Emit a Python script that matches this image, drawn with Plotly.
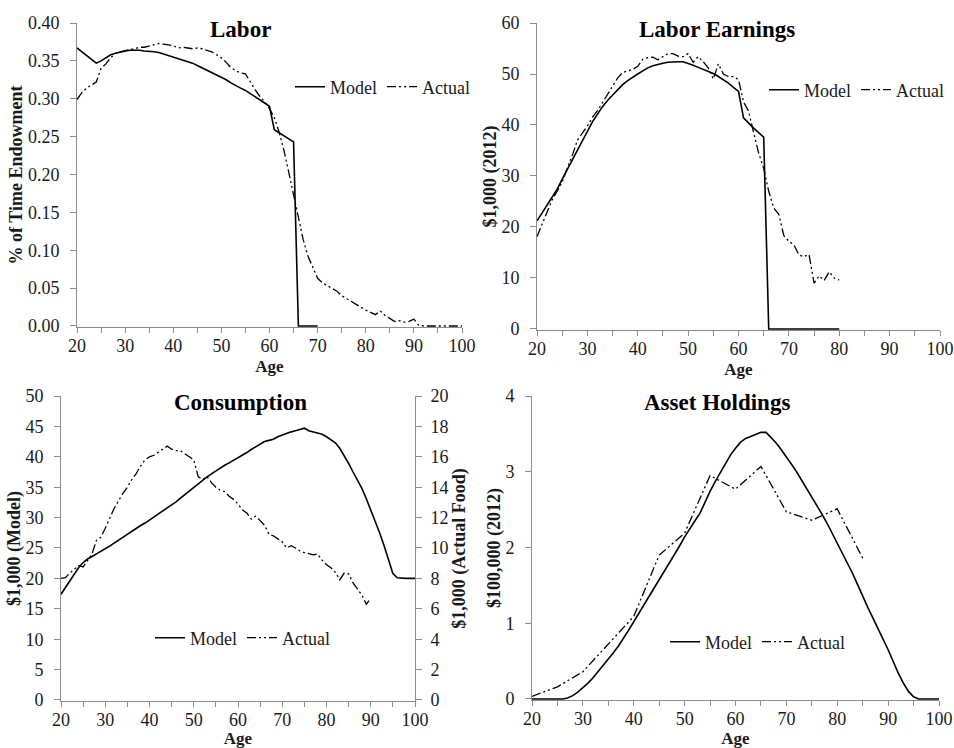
import plotly.graph_objects as go

# ---- Labor (share of time endowment) ----
labor_model_age = list(range(20, 71))
labor_model = [
    0.367, 0.362, 0.357, 0.352, 0.347, 0.350, 0.354, 0.358, 0.360, 0.362,
    0.363, 0.364, 0.364, 0.364, 0.363, 0.363, 0.362, 0.361, 0.359, 0.358,
    0.356, 0.354, 0.352, 0.350, 0.347, 0.344, 0.341, 0.338, 0.335, 0.332,
    0.329, 0.325, 0.321, 0.317, 0.314, 0.311, 0.307, 0.303, 0.299, 0.295,
    0.290, 0.259, 0.255, 0.251, 0.247, 0.243, 0.0, 0.0, 0.0, 0.0, 0.0,
]
labor_actual_age = list(range(20, 101))
labor_actual = [
    0.299, 0.308, 0.314, 0.318, 0.322, 0.340, 0.346, 0.354, 0.360, 0.362,
    0.364, 0.365, 0.366, 0.368, 0.368, 0.370, 0.371, 0.373, 0.372, 0.371,
    0.370, 0.367, 0.368, 0.367, 0.366, 0.367, 0.366, 0.364, 0.362, 0.358,
    0.354, 0.348, 0.341, 0.337, 0.334, 0.333, 0.322, 0.312, 0.303, 0.296,
    0.287, 0.275, 0.256, 0.232, 0.203, 0.172, 0.143, 0.114, 0.092, 0.078,
    0.063, 0.057, 0.053, 0.050, 0.046, 0.040, 0.036, 0.032, 0.028, 0.025,
    0.021, 0.018, 0.015, 0.020, 0.014, 0.010, 0.006, 0.007, 0.005, 0.006,
    0.009, 0.001, 0.0, 0.0, 0.0, 0.0, 0.0, 0.0, 0.0, 0.0, 0.0,
]

# ---- Labor earnings ($1,000, 2012) ----
earn_model_age = list(range(20, 81))
earn_model = [
    21.2, 22.8, 24.4, 25.9, 27.4, 29.4, 31.3, 33.1, 35.1, 37.1,
    39.0, 40.6, 42.1, 43.6, 44.8, 45.9, 46.9, 47.9, 48.7, 49.4,
    50.0, 50.6, 51.2, 51.6, 51.9, 52.1, 52.3, 52.4, 52.4, 52.4,
    52.1, 51.7, 51.3, 50.9, 50.5, 50.1, 49.5, 48.9, 48.2, 47.4,
    46.6, 41.4, 40.3, 39.4, 38.5, 37.6, 0.0, 0.0, 0.0, 0.0,
    0.0, 0.0, 0.0, 0.0, 0.0, 0.0, 0.0, 0.0, 0.0, 0.0, 0.0,
]
earn_actual_age = list(range(20, 81))
earn_actual = [
    18.1, 20.5, 23.0, 25.3, 27.0, 28.8, 31.5, 34.0, 37.0, 38.3,
    39.8, 41.5, 42.8, 44.4, 46.0, 47.8, 49.2, 50.3, 50.6, 50.9,
    51.5, 52.9, 53.2, 53.3, 52.8, 53.4, 54.0, 54.0, 53.5, 53.4,
    54.0, 52.3, 53.4, 52.4, 51.2, 49.0, 52.0, 50.0, 49.5, 49.5,
    48.9, 44.5, 42.7, 38.5, 34.5, 31.5, 27.0, 23.7, 22.5, 18.3,
    17.2, 16.5, 14.5, 14.2, 14.6, 9.0, 10.4, 9.5, 11.2, 10.0, 9.6,
]

# ---- Consumption ($1,000 model, left axis; actual food, right axis) ----
cons_model_age = list(range(20, 101))
cons_model = [
    17.4, 18.5, 19.6, 20.7, 21.8, 22.6, 23.2, 23.6, 24.0, 24.4,
    24.8, 25.3, 25.8, 26.3, 26.8, 27.3, 27.7, 28.2, 28.7, 29.1,
    29.6, 30.1, 30.5, 31.0, 31.5, 32.0, 32.6, 33.2, 33.8, 34.4,
    35.0, 35.6, 36.2, 36.7, 37.2, 37.7, 38.2, 38.6, 39.0, 39.4,
    39.8, 40.3, 40.7, 41.2, 41.6, 42.0, 42.5, 42.7, 42.9, 43.3,
    43.6, 43.8, 44.1, 44.3, 44.5, 44.7, 44.3, 44.1, 44.0, 43.7,
    43.3, 42.8, 42.3, 41.4, 40.2, 38.9, 37.5, 36.2, 34.8, 33.1,
    31.3, 29.5, 27.5, 25.4, 23.2, 20.8, 20.1, 20.0, 20.0, 20.0, 20.0,
]
cons_actual_age = list(range(20, 91))
cons_actual = [
    8.0, 8.05, 8.35, 8.6, 8.85, 8.75, 9.15, 9.6, 10.5, 10.7,
    11.3, 12.0, 12.6, 13.1, 13.6, 14.0, 14.5, 14.9, 15.4, 15.8,
    16.0, 16.1, 16.3, 16.5, 16.7, 16.5, 16.4, 16.4, 16.2, 16.0,
    15.8, 14.7, 14.5, 14.7, 14.3, 14.0, 13.8, 13.7, 13.4, 13.2,
    12.9, 12.5, 12.3, 11.9, 12.1, 11.8, 11.5, 10.9, 10.8, 10.6,
    10.4, 10.0, 10.15, 10.0, 9.8, 9.7, 9.6, 9.55, 9.6, 9.2,
    8.9, 8.7, 8.4, 7.9, 8.35, 8.3, 7.7, 7.3, 6.9, 6.3, 6.7,
]

# ---- Asset holdings ($100,000, 2012) ----
asset_model_age = list(range(20, 101))
asset_model = [
    0.0, 0.0, 0.0, 0.0, 0.0, 0.0, 0.0, 0.013, 0.044, 0.09,
    0.145, 0.21, 0.28, 0.36, 0.44, 0.52, 0.61, 0.70, 0.80, 0.91,
    1.02, 1.13, 1.24, 1.35, 1.46, 1.57, 1.68, 1.79, 1.90, 2.02,
    2.14, 2.25, 2.35, 2.45, 2.60, 2.74, 2.87, 2.99, 3.11, 3.22,
    3.31, 3.39, 3.44, 3.47, 3.50, 3.52, 3.52, 3.45, 3.38, 3.29,
    3.20, 3.10, 3.00, 2.89, 2.78, 2.67, 2.55, 2.44, 2.32, 2.19,
    2.06, 1.93, 1.80, 1.66, 1.51, 1.35, 1.21, 1.07, 0.94, 0.79,
    0.65, 0.49, 0.34, 0.21, 0.10, 0.03, 0.0, 0.0, 0.0, 0.0, 0.0,
]
asset_actual_age = [20, 25, 30, 35, 40, 45, 50, 55, 60, 65, 70, 75, 80, 85]
asset_actual = [0.035, 0.16, 0.36, 0.72, 1.09, 1.90, 2.19, 2.95, 2.77, 3.07,
                2.47, 2.36, 2.51, 1.86]

panel_titles = ["Labor", "Labor Earnings", "Consumption", "Asset Holdings"]
age_ticks = list(range(20, 101, 5))
age_labels = [str(a) if a % 10 == 0 else "" for a in age_ticks]

FONT = "Liberation Serif"
AXIS_GRAY = "#8c8c8c"
TEXT = "#1a1a1a"
ACTUAL_DASH = "9px,3px,2px,3px,2px,3px"

fig = go.Figure()


def add_pair(mx, my, ax, ay, xa, ya_model, ya_actual, legend):
    fig.add_trace(go.Scatter(
        x=mx, y=my, mode="lines", name="Model", xaxis=xa, yaxis=ya_model,
        line=dict(color="black", width=1.6), legend=legend))
    fig.add_trace(go.Scatter(
        x=ax, y=ay, mode="lines", name="Actual", xaxis=xa, yaxis=ya_actual,
        line=dict(color="black", width=1.3, dash=ACTUAL_DASH), legend=legend))


add_pair(labor_model_age, labor_model, labor_actual_age, labor_actual,
         "x", "y", "y", "legend")
add_pair(earn_model_age, earn_model, earn_actual_age, earn_actual,
         "x2", "y2", "y2", "legend2")
add_pair(cons_model_age, cons_model, cons_actual_age, cons_actual,
         "x3", "y3", "y5", "legend3")
add_pair(asset_model_age, asset_model, asset_actual_age, asset_actual,
         "x4", "y4", "y4", "legend4")

W, H = 954, 748


def px_x(v):
    return v / W


def px_y(v):
    return 1 - v / H


tick_font = dict(family=FONT, size=18, color=TEXT)
title_font = dict(family=FONT, size=18, color=TEXT, weight="bold")
age_font = dict(family=FONT, size=17, color=TEXT, weight="bold")


def xaxis(domain, anchor):
    return dict(
        domain=domain, anchor=anchor, range=[20, 100], automargin=False,
        tickmode="array", tickvals=age_ticks, ticktext=age_labels,
        ticks="outside", ticklen=5, tickcolor=AXIS_GRAY,
        showline=True, linecolor=AXIS_GRAY, linewidth=1,
        showgrid=False, zeroline=False, layer="below traces",
        tickfont=tick_font, ticklabelstandoff=-3,
        title=dict(text="Age", font=age_font, standoff=5),
    )


def yaxis(domain, anchor, top, dtick, title, fmt=None, side="left",
          standoff_lbl=7):
    # a hair below zero so a series resting on 0 is not clipped by the frame
    d = dict(
        domain=domain, anchor=anchor, range=[-top / 300.0, top],
        automargin=False,
        tickmode="linear", dtick=dtick, tick0=0,
        ticks="outside", ticklen=6, tickcolor=AXIS_GRAY,
        showline=True, linecolor=AXIS_GRAY, linewidth=1,
        showgrid=False, zeroline=False, layer="below traces",
        tickfont=tick_font, side=side, ticklabelstandoff=standoff_lbl,
        title=dict(text=title, font=title_font, standoff=0),
    )
    if fmt:
        d["tickformat"] = fmt
    return d


def legend_at(x_px, y_px):
    return dict(
        x=px_x(x_px), y=px_y(y_px), xanchor="left", yanchor="middle",
        orientation="h", bgcolor="rgba(0,0,0,0)", borderwidth=0,
        font=dict(family=FONT, size=18, color=TEXT),
        itemwidth=30, tracegroupgap=0,
    )


dom_tl_x = [px_x(77), px_x(462)]
dom_tl_y = [px_y(327), px_y(23)]
dom_tr_x = [px_x(537), px_x(940)]
dom_tr_y = [px_y(330), px_y(23)]
dom_bl_x = [px_x(61), px_x(415)]
dom_bl_y = [px_y(701), px_y(396)]
dom_br_x = [px_x(532), px_x(939)]
dom_br_y = [px_y(700), px_y(396)]

fig.update_layout(
    width=W, height=H, autosize=False,
    margin=dict(l=0, r=0, t=0, b=0, pad=0, autoexpand=False),
    paper_bgcolor="white", plot_bgcolor="white",
    font=dict(family=FONT, color=TEXT),
    showlegend=True,
    xaxis=xaxis(dom_tl_x, "y"),
    yaxis=yaxis(dom_tl_y, "x", 0.40, 0.05, "% of Time Endowment", ".2f"),
    xaxis2=xaxis(dom_tr_x, "y2"),
    yaxis2=yaxis(dom_tr_y, "x2", 60, 10, "$1,000 (2012)"),
    xaxis3=xaxis(dom_bl_x, "y3"),
    yaxis3=yaxis(dom_bl_y, "x3", 50, 5, "$1,000 (Model)"),
    yaxis5=dict(yaxis(dom_bl_y, "x3", 20, 2, "$1,000 (Actual Food)",
                      side="right", standoff_lbl=5), overlaying="y3"),
    xaxis4=xaxis(dom_br_x, "y4"),
    yaxis4=yaxis(dom_br_y, "x4", 4, 1, "$100,000 (2012)"),
    legend=legend_at(290, 87),
    legend2=legend_at(764, 90),
    legend3=legend_at(150, 638),
    legend4=legend_at(665, 642),
)

# Panel headings
title_pos = [(240, 29), (717, 29), (240, 402), (717, 402)]
for text, (tx, ty) in zip(panel_titles, title_pos):
    fig.add_annotation(
        text=text, x=px_x(tx), y=px_y(ty), xref="paper", yref="paper",
        xanchor="center", yanchor="middle", showarrow=False,
        font=dict(family=FONT, size=23, color="black", weight="bold"),
    )

fig.write_html(
    "out.html",
    config={"responsive": False, "displayModeBar": False},
    post_script="document.body.style.margin='0';",
)
